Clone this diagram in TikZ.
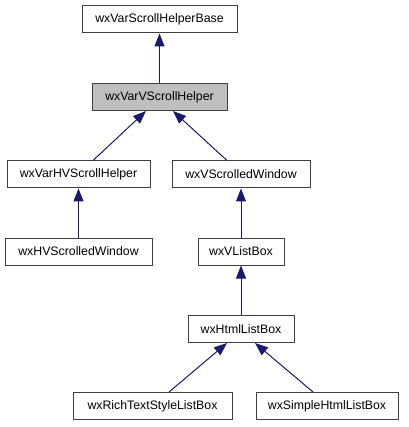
\documentclass[tikz,border=0pt]{standalone}
\usepackage{fontspec}
\setmainfont{Liberation Sans}
\usetikzlibrary{arrows.meta}
\definecolor{edgecol}{HTML}{191970}
\definecolor{boxline}{HTML}{404040}
\definecolor{grayfill}{HTML}{BFBFBF}
\tikzset{
  cls/.style={draw=boxline, line width=1pt, fill=white, inner sep=0pt, minimum height=27pt, font=\fontsize{12.3}{14}\selectfont, anchor=center},
  cur/.style={cls, fill=grayfill},
  edge/.style={draw=edgecol, line width=1pt, -{Triangle[length=13pt,width=10pt]}, shorten >=0pt}
}
\begin{document}
\begin{tikzpicture}[x=1pt,y=-1pt]
\useasboundingbox (0,0) rectangle (408,427);
\node[cls, minimum width=155pt] (base) at (159.5,19.5) {wxVarScrollHelperBase};
\node[cur, minimum width=135pt] (vvs) at (159.5,97) {wxVarVScrollHelper};
\node[cls, minimum width=143pt] (hvs) at (78.5,174.5) {wxVarHVScrollHelper};
\node[cls, minimum width=138pt] (vsw) at (241,174.5) {wxVScrolledWindow};
\node[cls, minimum width=147pt] (hvw) at (78.5,251.5) {wxHVScrolledWindow};
\node[cls, minimum width=86pt] (vlb) at (241,251.5) {wxVListBox};
\node[cls, minimum width=106pt] (hlb) at (241,329) {wxHtmlListBox};
\node[cls, minimum width=159pt] (rts) at (152.5,406) {wxRichTextStyleListBox};
\node[cls, minimum width=142pt] (shl) at (327,406) {wxSimpleHtmlListBox};
\draw[edge] (vvs.north) -- (base.south);
\draw[edge] ([xshift=14.5pt]hvs.north) -- ([xshift=-13.5pt]vvs.south);
\draw[edge] ([xshift=-14pt]vsw.north) -- ([xshift=13.5pt]vvs.south);
\draw[edge] (hvw.north) -- (hvs.south);
\draw[edge] (vlb.north) -- (vsw.south);
\draw[edge] (hlb.north) -- (vlb.south);
\draw[edge] ([xshift=16.5pt]rts.north) -- ([xshift=-14pt]hlb.south);
\draw[edge] ([xshift=-14pt]shl.north) -- ([xshift=14pt]hlb.south);
\end{tikzpicture}
\end{document}
